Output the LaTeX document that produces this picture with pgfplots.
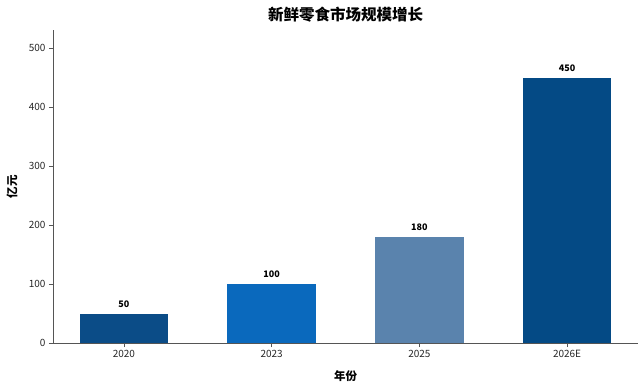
\documentclass[border=0pt]{standalone}
\usepackage{fontspec}
\setmainfont{Noto Sans CJK SC}
\usepackage{pgfplots}
\pgfplotsset{compat=1.18}
\definecolor{c1}{HTML}{0B4C87}
\definecolor{c2}{HTML}{0A69BD}
\definecolor{c3}{HTML}{5A83AD}
\definecolor{c4}{HTML}{044A85}
\definecolor{spine}{HTML}{555555}
\begin{document}
\begin{tikzpicture}
\useasboundingbox (-53pt,-40pt) rectangle (587pt,343pt);
\begin{axis}[
  at={(0,0)}, anchor=south west,
  scale only axis, width=585pt, height=313pt,
  xmin=-0.48, xmax=3.48, ymin=0, ymax=531,
  axis x line*=bottom, axis y line*=left,
  axis line style={draw=spine, line width=0.8pt},
  xtick={0,1,2,3}, xticklabels={2020,2023,2025,2026E},
  ytick={0,100,200,300,400,500},
  tick align=outside, major tick length=4pt,
  tick style={draw=spine, line width=0.6pt},
  /pgf/number format/assume math mode=true,
  ticklabel style={font=\fontsize{10}{12}\selectfont, text=black!85},
  xlabel={年份}, ylabel={亿元},
  label style={font=\fontsize{11.5}{13}\selectfont\bfseries},
  xlabel style={at={(axis description cs:0.5,0)}, anchor=center, yshift=-33pt},
  ylabel style={at={(axis description cs:0,0.5)}, anchor=center, yshift=41pt},
  title={新鲜零食市场规模增长},
  title style={at={(axis description cs:0.5,1)}, anchor=center, yshift=9pt, font=\fontsize{15.5}{18}\selectfont\bfseries},
  ybar, bar width=0.6, bar shift=0pt,
  nodes near coords,
  nodes near coords style={font=\fontsize{9}{10}\selectfont\bfseries, text=black, yshift=2.5pt},
  every axis plot/.append style={draw=none},
]
\addplot[fill=c1] coordinates {(0,50)};
\addplot[fill=c2] coordinates {(1,100)};
\addplot[fill=c3] coordinates {(2,180)};
\addplot[fill=c4] coordinates {(3,450)};
\end{axis}
\end{tikzpicture}
\end{document}
